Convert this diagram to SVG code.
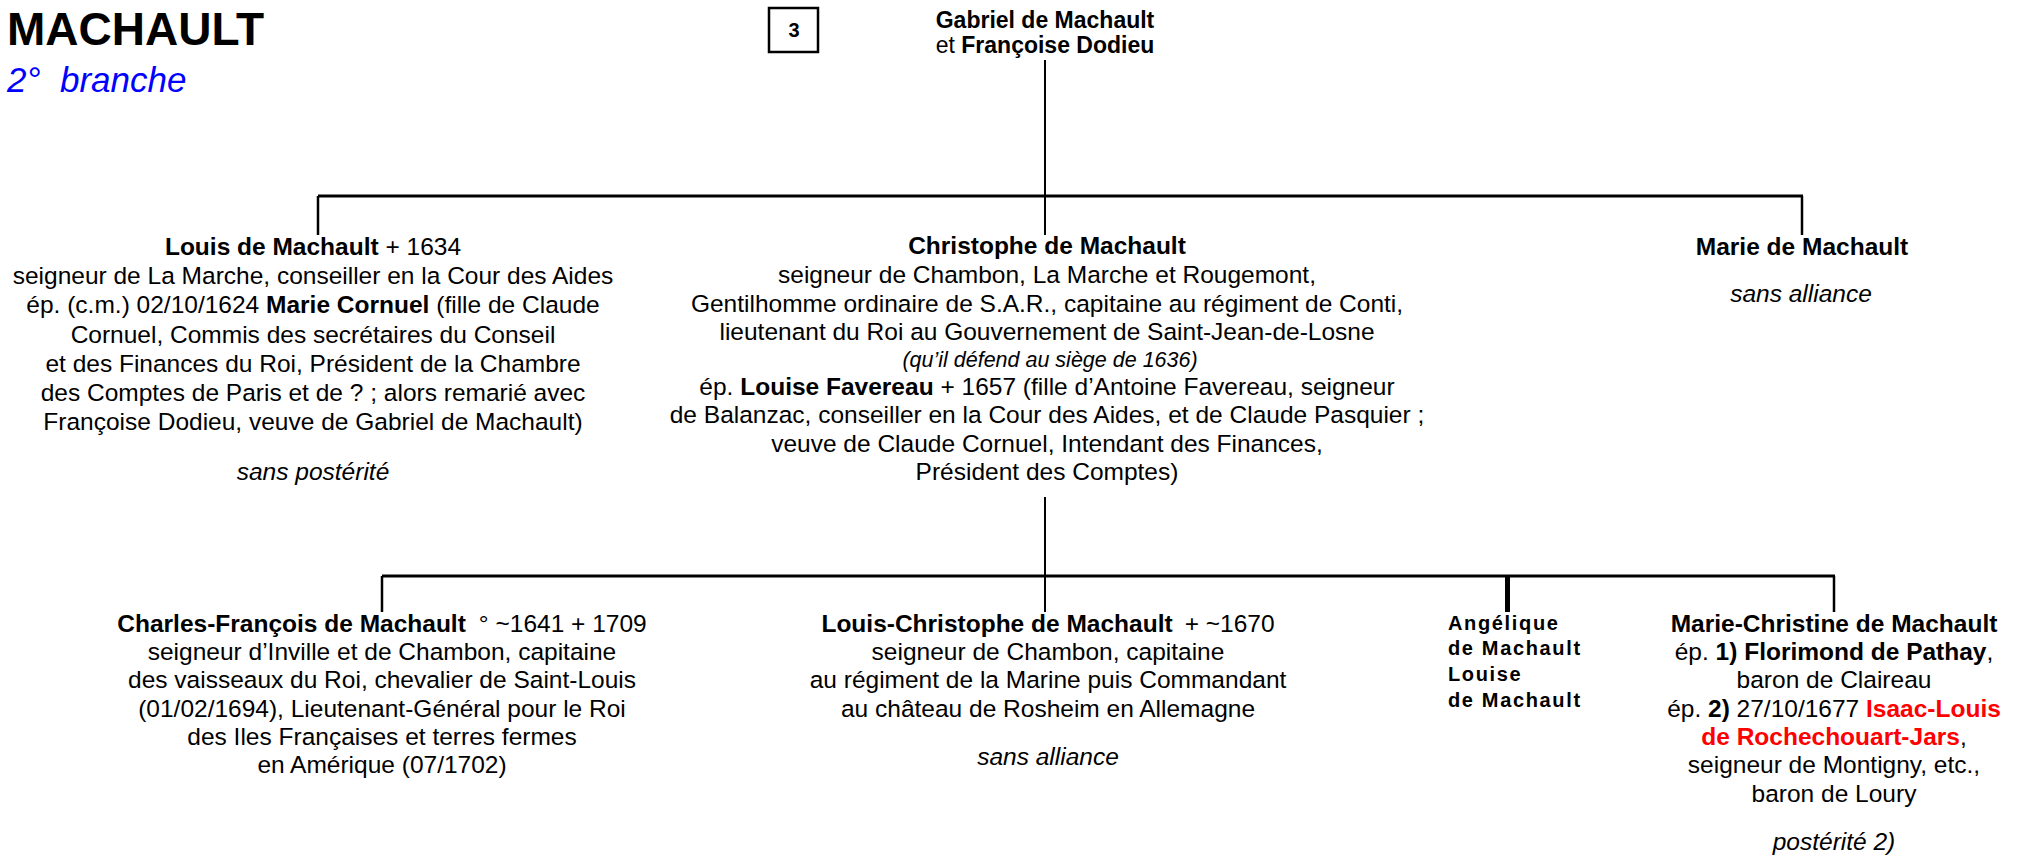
<svg xmlns="http://www.w3.org/2000/svg" width="2019" height="860" viewBox="0 0 2019 860">
<style>
text { font-family: "Liberation Sans", Arial, sans-serif; fill: #000; }
.t { font-size: 24.5px; text-anchor: middle; }
.b { font-weight: bold; }
.i { font-style: italic; }
.red { fill: #FF0000; font-weight: bold; }
.ln { stroke: #000; stroke-width: 2; fill: none; }
.hl { stroke: #000; stroke-width: 3; fill: none; }
.dr { stroke: #000; stroke-width: 2.5; fill: none; }
.sp { font-size: 20px; font-weight: bold; letter-spacing: 1.65px; }
</style>
<rect x="0" y="0" width="2019" height="860" fill="#fff"/>

<g id="title">
  <text x="7" y="45" font-size="46" font-weight="bold">MACHAULT</text>
  <text x="7" y="92" font-size="35" font-style="italic" style="fill:#0000FF">2°<tspan x="60">branche</tspan></text>
</g>

<g id="box3">
  <rect x="769" y="8" width="49" height="44" fill="#fff" stroke="#000" stroke-width="2.5"/>
  <text x="794" y="37" font-size="20" font-weight="bold" text-anchor="middle">3</text>
</g>

<g id="connectors">
  <line class="ln" x1="1045" y1="60" x2="1045" y2="235"/>
  <line class="hl" x1="318" y1="196" x2="1803" y2="196"/>
  <line class="dr" x1="318" y1="196" x2="318" y2="235"/>
  <line class="dr" x1="1802" y1="196" x2="1802" y2="235"/>
  <line class="ln" x1="1045" y1="497" x2="1045" y2="612"/>
  <line class="hl" x1="382" y1="576" x2="1835" y2="576"/>
  <line class="dr" x1="382" y1="576" x2="382" y2="612"/>
  <line class="dr" x1="1834" y1="576" x2="1834" y2="612"/>
  <line stroke="#000" stroke-width="5" x1="1507.5" y1="576" x2="1507.5" y2="612"/>
</g>

<g id="gabriel">
  <text x="1045" y="28" font-size="23" text-anchor="middle" font-weight="bold">Gabriel de Machault</text>
  <text x="1045" y="53" font-size="23" text-anchor="middle">et <tspan class="b">Françoise Dodieu</tspan></text>
</g>

<g id="louis">
  <text class="t" x="313" y="255"><tspan class="b">Louis de Machault</tspan> + 1634</text>
  <text class="t" x="313" y="284">seigneur de La Marche, conseiller en la Cour des Aides</text>
  <text class="t" x="313" y="313">ép. (c.m.) 02/10/1624 <tspan class="b">Marie Cornuel</tspan> (fille de Claude</text>
  <text class="t" x="313" y="343">Cornuel, Commis des secrétaires du Conseil</text>
  <text class="t" x="313" y="372">et des Finances du Roi, Président de la Chambre</text>
  <text class="t" x="313" y="401">des Comptes de Paris et de ? ; alors remarié avec</text>
  <text class="t" x="313" y="430">Françoise Dodieu, veuve de Gabriel de Machault)</text>
  <text class="t i" x="313" y="480">sans postérité</text>
</g>

<g id="christophe">
  <text class="t b" x="1047" y="254">Christophe de Machault</text>
  <text class="t" x="1047" y="283">seigneur de Chambon, La Marche et Rougemont,</text>
  <text class="t" x="1047" y="312">Gentilhomme ordinaire de S.A.R., capitaine au régiment de Conti,</text>
  <text class="t" x="1047" y="340">lieutenant du Roi au Gouvernement de Saint-Jean-de-Losne</text>
  <text class="i" x="1050" y="367" font-size="21.5" text-anchor="middle">(qu’il défend au siège de 1636)</text>
  <text class="t" x="1047" y="395">ép. <tspan class="b">Louise Favereau</tspan> + 1657 (fille d’Antoine Favereau, seigneur</text>
  <text class="t" x="1047" y="423">de Balanzac, conseiller en la Cour des Aides, et de Claude Pasquier ;</text>
  <text class="t" x="1047" y="452">veuve de Claude Cornuel, Intendant des Finances,</text>
  <text class="t" x="1047" y="480">Président des Comptes)</text>
</g>

<g id="marie">
  <text class="t b" x="1802" y="255">Marie de Machault</text>
  <text class="t i" x="1801" y="302">sans alliance</text>
</g>

<g id="charles-francois">
  <text class="t" x="382" y="632"><tspan class="b">Charles-François de Machault</tspan><tspan dx="13">° ~1641 + 1709</tspan></text>
  <text class="t" x="382" y="660">seigneur d’Inville et de Chambon, capitaine</text>
  <text class="t" x="382" y="688">des vaisseaux du Roi, chevalier de Saint-Louis</text>
  <text class="t" x="382" y="717">(01/02/1694), Lieutenant-Général pour le Roi</text>
  <text class="t" x="382" y="745">des Iles Françaises et terres fermes</text>
  <text class="t" x="382" y="773">en Amérique (07/1702)</text>
</g>

<g id="louis-christophe">
  <text class="t" x="1048" y="632"><tspan class="b">Louis-Christophe de Machault</tspan><tspan dx="12">+ ~1670</tspan></text>
  <text class="t" x="1048" y="660">seigneur de Chambon, capitaine</text>
  <text class="t" x="1048" y="688">au régiment de la Marine puis Commandant</text>
  <text class="t" x="1048" y="717">au château de Rosheim en Allemagne</text>
  <text class="t i" x="1048" y="765">sans alliance</text>
</g>

<g id="angelique-louise">
  <text class="sp" x="1448" y="630">Angélique</text>
  <text class="sp" x="1448" y="655">de Machault</text>
  <text class="sp" x="1448" y="681">Louise</text>
  <text class="sp" x="1448" y="707">de Machault</text>
</g>

<g id="marie-christine">
  <text class="t b" x="1834" y="632">Marie-Christine de Machault</text>
  <text class="t" x="1834" y="660">ép. <tspan class="b">1) Florimond de Pathay</tspan>,</text>
  <text class="t" x="1834" y="688">baron de Claireau</text>
  <text class="t" x="1834" y="717">ép. <tspan class="b">2)</tspan> 27/10/1677 <tspan class="red">Isaac-Louis</tspan></text>
  <text class="t" x="1834" y="745"><tspan class="red">de Rochechouart-Jars</tspan>,</text>
  <text class="t" x="1834" y="773">seigneur de Montigny, etc.,</text>
  <text class="t" x="1834" y="802">baron de Loury</text>
  <text class="t i" x="1834" y="850">postérité 2)</text>
</g>
</svg>
